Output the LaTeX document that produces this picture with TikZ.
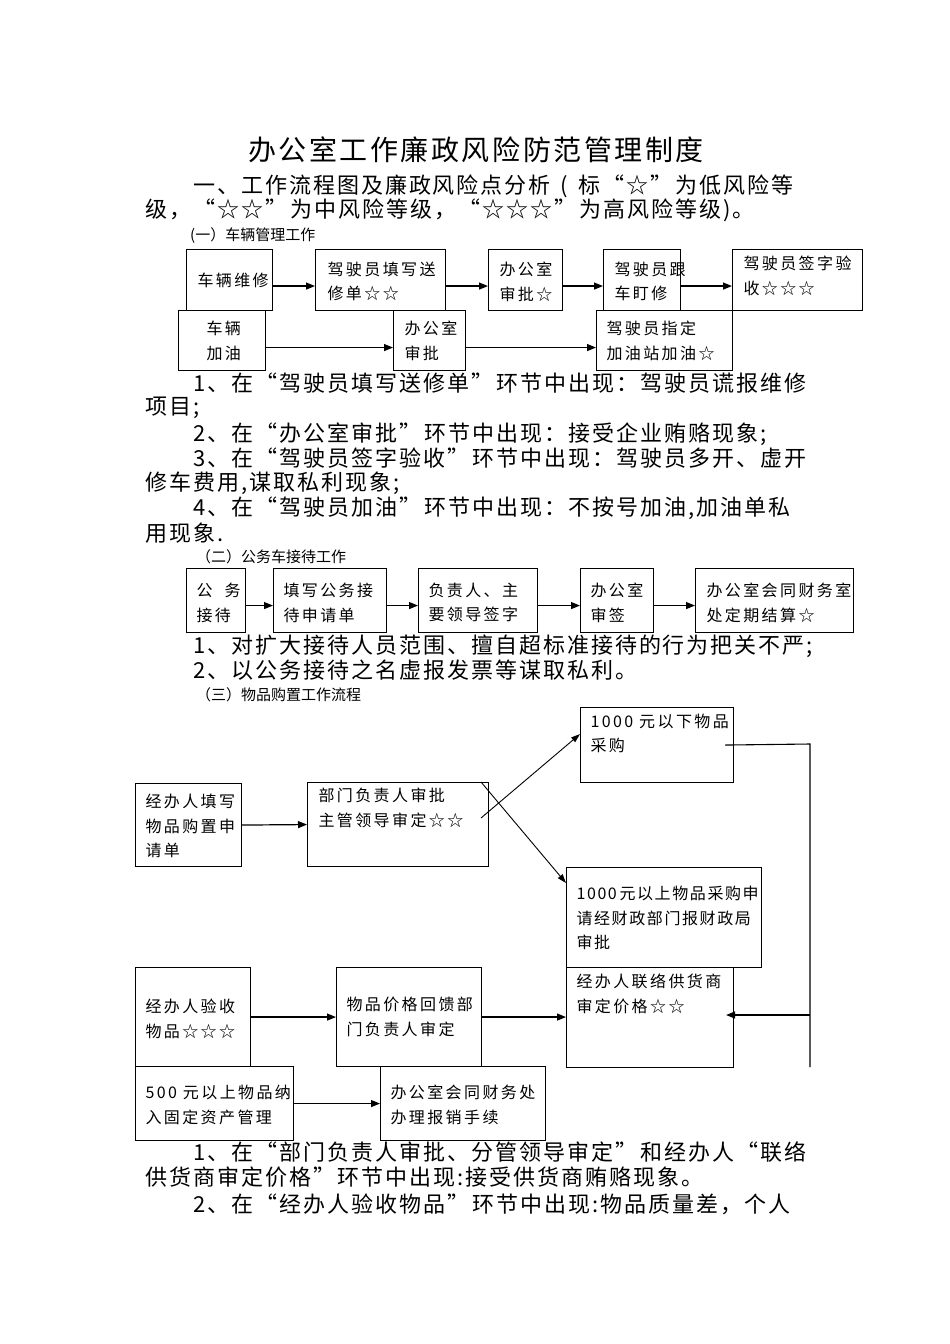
\documentclass[tikz,border=0pt]{standalone}
\usepackage{fontspec}
\setmainfont{Noto Sans CJK SC}
\newfontfamily\bxf[LetterSpace=15]{Noto Sans CJK SC}
\newfontfamily\bodyf[LetterSpace=9]{Noto Sans CJK SC}
\usetikzlibrary{arrows.meta}
\newcommand\oq{\hspace*{0.12em}“}
\newcommand\cq{”\hspace*{0.12em}}
\newcommand\mkbox[8]{%
  \node[box] (#1) at (#2,#3) {\begin{minipage}[t][#5pt][t]{#4pt}%
    \bxf\fontsize{16pt}{24.5pt}\selectfont\raggedright\leftskip=#6pt\relax\rightskip=-40pt\relax\parindent=0pt
    \vspace*{#7pt}#8\end{minipage}};}
\begin{document}
\begin{tikzpicture}[x=1pt,y=-1pt,
  box/.style={draw, line width=1.1pt, inner sep=0pt, anchor=north west},
  arr/.style={-{Triangle[length=9pt,width=7pt]}, line width=1.2pt},
  tarr/.style={-{Triangle[length=9pt,width=6pt]}, line width=0.9pt},
  tline/.style={line width=1.1pt},
  body/.style={inner sep=0pt, anchor=west, font=\bodyf\fontsize{22pt}{22pt}\selectfont},
  lbl/.style={inner sep=0pt, anchor=west, font=\fontsize{15pt}{15pt}\selectfont}]
\useasboundingbox (0,0) rectangle (950,1344);

% title and intro
\node[inner sep=0pt, font=\bodyf\fontsize{28pt}{28pt}\selectfont] (title) at (476,150) {办公室工作廉政风险防范管理制度};
\node[body] (i1) at (193,186) {一、工作流程图及廉政风险点分析\hspace*{0.45em}(\hspace*{0.45em}标\oq☆\cq 为低风险等};
\node[body] (i2) at (145,210) {级，\oq☆☆\cq 为中风险等级，\oq☆☆☆\cq 为高风险等级)。};

% section 1
\node[lbl] (s1) at (190,236) {(一）车辆管理工作};
\mkbox{a1}{186}{249}{86}{61}{11}{23.5}{车辆维修}
\mkbox{a2}{315}{249}{130}{61}{12}{12.5}{驾驶员填写送\\修单☆☆}
\mkbox{a3}{488}{249}{74}{61}{11}{12.5}{办公室\\审批☆}
\mkbox{a4}{603}{249}{77}{61}{11}{12.5}{驾驶员跟\\车盯修}
\mkbox{a5}{732}{249}{130}{61}{11}{6.5}{驾驶员签字验\\收☆☆☆}
\mkbox{c1}{178}{310}{87}{60}{28}{10.5}{车辆\\加油}
\mkbox{c2}{393}{310}{72}{60}{11}{10.5}{办公室\\审批}
\mkbox{c3}{596}{310}{136}{60}{10}{10.5}{驾驶员指定\\加油站加油☆}
\draw[arr] ([yshift=-6pt]a1.east) -- ([yshift=-6pt]a2.west);
\draw[arr] ([yshift=-6pt]a2.east) -- ([yshift=-6pt]a3.west);
\draw[arr] ([yshift=-6pt]a3.east) -- ([yshift=-6pt]a4.west);
\draw[arr] ([yshift=-6pt]a4.east) -- ([yshift=-6pt]a5.west);
\draw[arr] ([yshift=-7pt]c1.east) -- ([yshift=-7pt]c2.west);
\draw[arr] ([yshift=-7pt]c2.east) -- ([yshift=-7pt]c3.west);

\node[body] (p1) at (193,383) {1、在\oq 驾驶员填写送修单\cq 环节中出现：驾驶员谎报维修};
\node[body] (p2) at (145,408) {项目;};
\node[body] (p3) at (193,434) {2、在\oq 办公室审批\cq 环节中出现：接受企业贿赂现象;};
\node[body] (p4) at (193,458) {3、在\oq 驾驶员签字验收\cq 环节中出现：驾驶员多开、虚开};
\node[body] (p5) at (145,483) {修车费用,谋取私利现象;};
\node[body] (p6) at (193,508) {4、在\oq 驾驶员加油\cq 环节中出现：不按号加油,加油单私};
\node[body] (p7) at (145,533) {用现象.};

% section 2
\node[lbl] (s2) at (196,557) {（二）公务车接待工作};
\mkbox{d1}{186}{568}{59}{64}{10}{14.5}{公\hspace{12pt}务\\接待}
\mkbox{d2}{273}{568}{113}{64}{10}{14.5}{填写公务接\\待申请单}
\mkbox{d3}{418}{568}{119}{64}{10}{14.5}{负责人、主\\要领导签字}
\mkbox{d4}{580}{568}{73}{64}{10}{14.5}{办公室\\审签}
\mkbox{d5}{695}{568}{158}{64}{11}{14.5}{办公室会同财务室\\处定期结算☆}
\draw[arr] ([yshift=-5pt]d1.east) -- ([yshift=-5pt]d2.west);
\draw[arr] ([yshift=-5pt]d2.east) -- ([yshift=-5pt]d3.west);
\draw[arr] ([yshift=-5pt]d3.east) -- ([yshift=-5pt]d4.west);
\draw[arr] ([yshift=-5pt]d4.east) -- ([yshift=-5pt]d5.west);

\node[body] (q1) at (193,646) {1、对扩大接待人员范围、擅自超标准接待的行为把关不严;};
\node[body] (q2) at (193,670) {2、以公务接待之名虚报发票等谋取私利。};

% section 3
\node[lbl] (s3) at (196,695) {（三）物品购置工作流程};
\mkbox{e1}{580}{707}{153}{75}{10}{6.5}{1000~元以下物品\\采购}
\mkbox{e2}{135}{783}{106}{83}{10}{10.5}{经办人填写\\物品购置申\\请单}
\mkbox{e3}{307}{782}{181}{84}{11}{5.5}{部门负责人审批\\主管领导审定☆☆}
\mkbox{e4}{566}{867}{195}{100}{10}{18.5}{\addfontfeature{LetterSpace=10}1000\,元以上物品采购申\\请经财政部门报财政局\\审批}
\mkbox{e5}{135}{967}{115}{99}{10}{31.5}{经办人验收\\物品☆☆☆}
\mkbox{e6}{336}{967}{145}{99}{10}{29.5}{物品价格回馈部\\门负责人审定}
\mkbox{e7}{566}{967}{167}{100}{10}{6.5}{经办人联络供货商\\审定价格☆☆}
\mkbox{e8}{135}{1066}{158}{74}{10}{18.5}{500~元以上物品纳\\入固定资产管理}
\mkbox{e9}{380}{1066}{165}{74}{10}{18.5}{办公室会同财务处\\办理报销手续}

\coordinate (up0) at (481,818);
\coordinate (dn0) at (481,782);
\coordinate (rv1) at (810,744);
\coordinate (rv2) at (810,1067);
\coordinate (rv3) at (810,1015);
\draw[tarr] (up0) -- ([yshift=11pt]e1.west);
\draw[tarr] (dn0) -- ([yshift=-16pt]e4.north west);
\draw[tline] ([xshift=-9pt]e1.east) -- (rv1) -- (rv2);
\draw[arr] (rv3) -- ([xshift=-8pt]e7.east |- rv3);
\draw[arr] (e2.east) -- (e3.west);
\draw[arr] (e5.east) -- (e6.west);
\draw[arr] (e6.east) -- (e6.east -| e7.west);
\draw[arr] (e8.east) -- (e9.west);

\node[body] (r1) at (193,1152) {1、在\oq 部门负责人审批、分管领导审定\cq 和经办人\oq 联络};
\node[body] (r2) at (145,1177) {供货商审定价格\cq 环节中出现:接受供货商贿赂现象。};
\node[body] (r3) at (193,1204) {2、在\oq 经办人验收物品\cq 环节中出现:物品质量差，个人};
\end{tikzpicture}
\end{document}
